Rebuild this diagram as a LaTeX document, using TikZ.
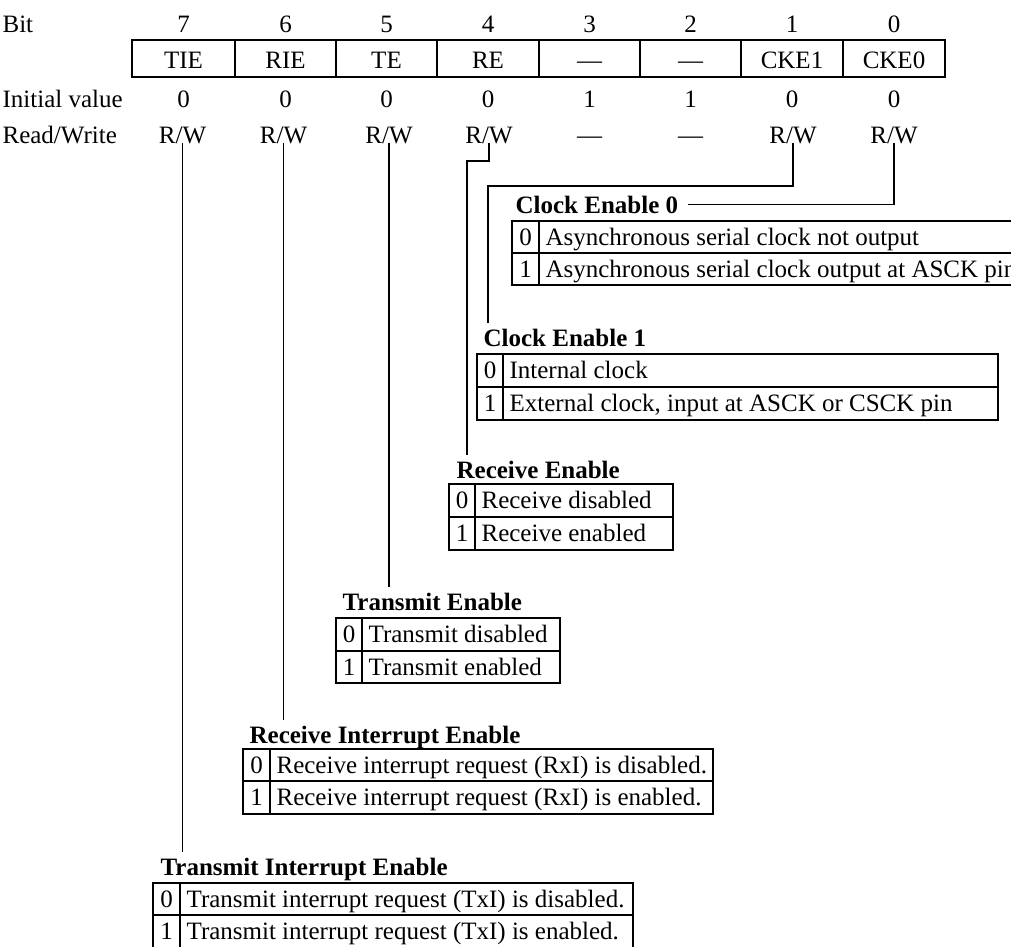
\documentclass[tikz,border=0pt]{standalone}
\usepackage{fontspec}
\setmainfont{Liberation Serif}
\newcommand\bittable[9]{%
  \draw (#2,#5) rectangle (#4,#7);
  \draw (#2,#6) -- (#4,#6);
  \draw (#3,#5) -- (#3,#7);
  \node[txt] (#1z) at ({(#2+#3)/2},{#5+24.5}) {0};
  \node[txt] (#1o) at ({(#2+#3)/2},{#6+24.5}) {1};
  \node[txtl] (#1a) at ({#3+6},{#5+24.5}) {#8};
  \node[txtl] (#1b) at ({#3+6},{#6+24.5}) {#9};
}
\begin{document}
\begin{tikzpicture}[x=1pt,y=-1pt,line width=1.2pt,
  every node/.style={inner sep=0pt},
  txt/.style={font=\fontsize{25}{30}\selectfont, anchor=base},
  txtl/.style={txt, anchor=base west},
  hdr/.style={font=\fontsize{25}{30}\selectfont\bfseries, anchor=base west},
  conn/.style={line width=1.2pt, shorten >=5pt}]
\useasboundingbox (0,0) rectangle (1011,946);
\clip (0,0) rectangle (1011,946);

% left labels
\node[txtl] (bitlbl) at (2,32) {Bit};
\node[txtl] (ivlbl) at (2,107) {Initial value};
\node[txtl] (rwlbl) at (2,143) {Read/Write};

% register
\draw (132,40) rectangle (945,77);
\foreach \x in {235,336,437,539,640,741,843} \draw (\x,40) -- (\x,77);
\foreach \k/\x/\nm/\iv in {7/183.5/TIE/0, 6/285.5/RIE/0, 5/386.5/TE/0, 4/488/RE/0, 3/589.5/—/1, 2/690.5/—/1, 1/792/CKE1/0, 0/894/CKE0/0} {
  \node[txt] (bit\k) at (\x,32) {\k};
  \node[txt] (reg\k) at (\x,68) {\nm};
  \node[txt] (iv\k) at (\x,107) {\iv};
}
\node[txt] (rw7) at (182.5,143) {R/W};
\node[txt] (rw6) at (283.5,143) {R/W};
\node[txt] (rw5) at (389,143) {R/W};
\node[txt] (rw4) at (489,143) {R/W};
\node[txt] (rw3) at (589.5,143) {—};
\node[txt] (rw2) at (690.5,143) {—};
\node[txt] (rw1) at (793,143) {R/W};
\node[txt] (rw0) at (894,143) {R/W};

% tables
\bittable{ce0}{512}{539}{1060}{221}{253}{285}{Asynchronous serial clock not output}{Asynchronous serial clock output at ASCK pin}
\bittable{ce1}{477}{503}{998}{354}{387}{420}{Internal clock}{External clock, input at ASCK or CSCK pin}
\bittable{re}{449}{475}{673}{484}{517}{550}{Receive disabled}{Receive enabled}
\bittable{te}{336}{362}{560}{618}{651}{683}{Transmit disabled}{Transmit enabled}
\bittable{rie}{243}{270}{713}{749}{781}{814}{Receive interrupt request (RxI) is disabled.}{Receive interrupt request (RxI) is enabled.}
\bittable{tie}{153}{180}{633}{883}{915}{948}{Transmit interrupt request (TxI) is disabled.}{Transmit interrupt request (TxI) is enabled.}

% headings
\node[hdr] (ce0lbl) at (515,213) {Clock Enable 0};
\node[hdr] (ce1lbl) at (483,346) {Clock Enable 1};
\node[hdr] (relbl) at (456,478) {Receive Enable};
\node[hdr] (telbl) at (342,610) {Transmit Enable};
\node[hdr] (rielbl) at (249,743) {Receive Interrupt Enable};
\node[hdr] (tielbl) at (160,875) {Transmit Interrupt Enable};

% connectors
\draw[conn] (rw7.base) -- (rw7.base |- tielbl.north);
\draw[conn] (rw6.base) -- (rw6.base |- rielbl.north);
\draw[conn] (rw5.base) -- (rw5.base |- telbl.north);
\coordinate (rebend) at (467,161);
\draw[conn] (rw4.base) |- (rebend) -- (rebend |- relbl.north);
\coordinate (ceonebend) at (488,186);
\draw[conn] (rw1.base) |- (ceonebend) -- (ceonebend |- ce1lbl.north);
\draw (rw0.base) |- ([xshift=9pt]ce0lbl.east);
\end{tikzpicture}
\end{document}
